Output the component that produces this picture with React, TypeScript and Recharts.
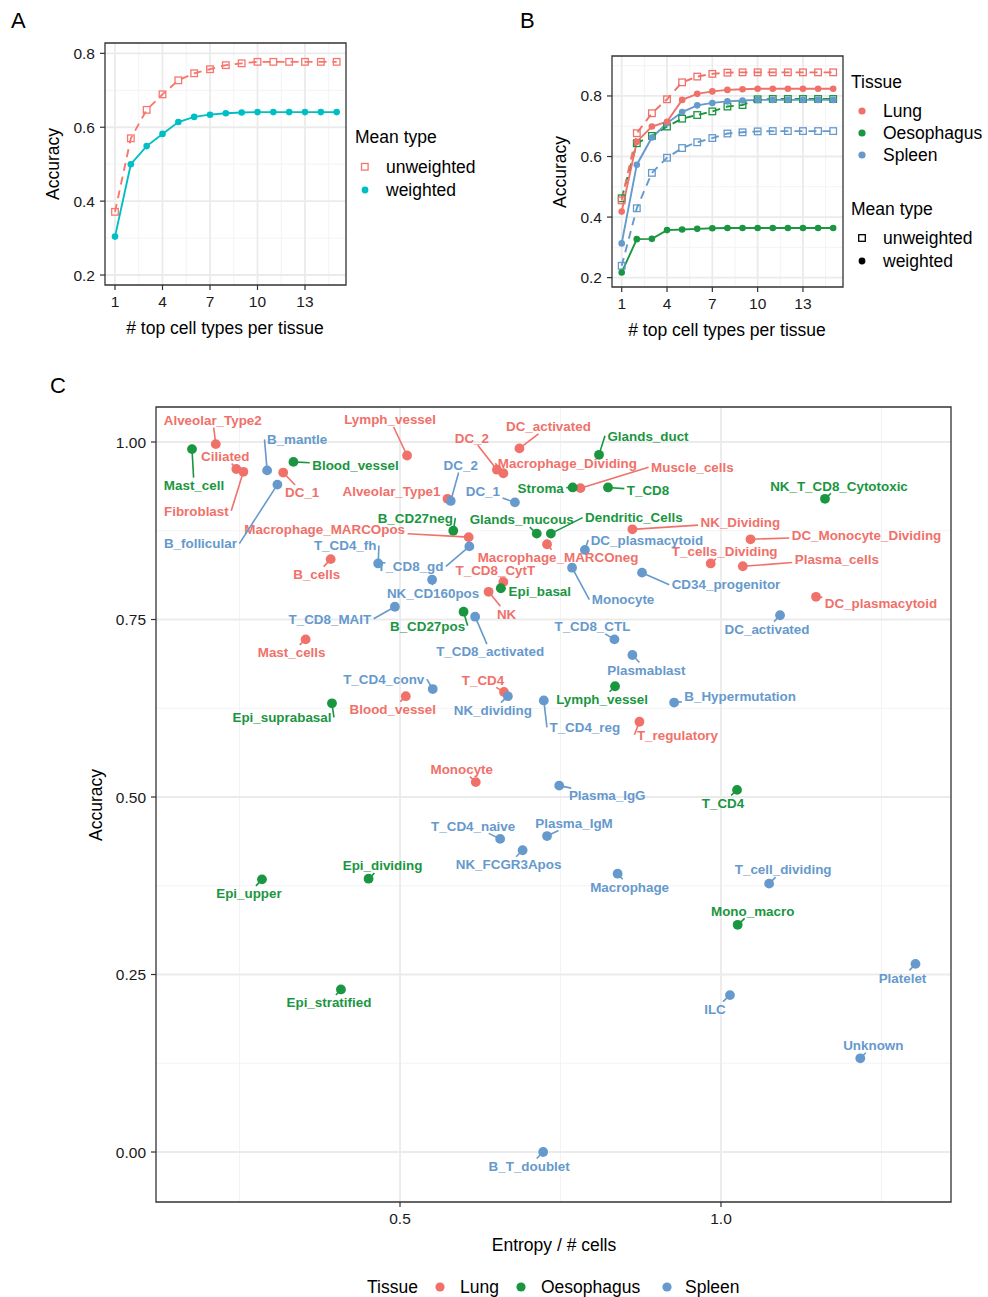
import React from 'react';
import {
  ComposedChart,
  ScatterChart,
  Line,
  Scatter,
  XAxis,
  YAxis,
  CartesianGrid,
  ReferenceArea,
} from 'recharts';

const FONT = '"Liberation Sans", Arial, Helvetica, sans-serif';

// ---------- colours ----------
const C_UNW_A = '#F8766D';
const C_W_A = '#00BFC4';
const C_LUNG = '#F0716A';
const C_OES = '#1A9641';
const C_SPL = '#6699CC';
const TICK_COL = '#1a1a1a';
const BORDER = '#333333';
const GRID_MAJOR = '#EBEBEB';
const GRID_MINOR = '#F3F3F3';

// ---------- Panel A data ----------
const topN = [1, 2, 3, 4, 5, 6, 7, 8, 9, 10, 11, 12, 13, 14, 15];
const aUnweighted = [0.371, 0.57, 0.647, 0.689, 0.727, 0.746, 0.757, 0.768, 0.773, 0.777, 0.777, 0.777, 0.777, 0.777, 0.777];
const aWeighted = [0.304, 0.5, 0.549, 0.582, 0.614, 0.628, 0.634, 0.638, 0.64, 0.641, 0.641, 0.641, 0.641, 0.641, 0.641];

// ---------- Panel B data ----------
const bLungUnw = [0.455, 0.677, 0.743, 0.789, 0.845, 0.864, 0.873, 0.877, 0.878, 0.878, 0.878, 0.878, 0.878, 0.878, 0.878];
const bLungW = [0.418, 0.649, 0.699, 0.715, 0.787, 0.807, 0.815, 0.82, 0.822, 0.824, 0.824, 0.824, 0.824, 0.824, 0.824];
const bOesUnw = [0.462, 0.644, 0.668, 0.699, 0.725, 0.737, 0.749, 0.765, 0.77, 0.789, 0.79, 0.79, 0.79, 0.79, 0.79];
const bOesW = [0.217, 0.327, 0.328, 0.357, 0.359, 0.361, 0.363, 0.364, 0.364, 0.364, 0.364, 0.364, 0.364, 0.364, 0.364];
const bSplUnw = [0.239, 0.429, 0.546, 0.596, 0.628, 0.647, 0.661, 0.676, 0.68, 0.683, 0.684, 0.684, 0.684, 0.684, 0.684];
const bSplW = [0.313, 0.573, 0.663, 0.71, 0.747, 0.769, 0.777, 0.782, 0.785, 0.787, 0.787, 0.787, 0.787, 0.787, 0.787];

// ---------- Panel C data ----------
const lungNames = ['Alveolar_Type2', 'Ciliated', 'Fibroblast', 'DC_1', 'Lymph_vessel', 'DC_activated', 'DC_2', 'Macrophage_Dividing', 'Alveolar_Type1', 'Muscle_cells', 'Macrophage_MARCOpos', 'Macrophage_MARCOneg', 'NK_Dividing', 'DC_Monocyte_Dividing', 'T_cells_Dividing', 'Plasma_cells', 'B_cells', 'T_CD8_CytT', 'NK', 'DC_plasmacytoid', 'Mast_cells', 'T_CD4', 'Blood_vessel', 'T_regulatory', 'Monocyte'];
const lungEntropy = [0.213, 0.245, 0.256, 0.318, 0.511, 0.686, 0.651, 0.661, 0.574, 0.781, 0.607, 0.729, 0.862, 1.046, 0.984, 1.034, 0.392, 0.661, 0.638, 1.148, 0.353, 0.662, 0.509, 0.873, 0.618];
const lungAccuracy = [0.997, 0.962, 0.958, 0.957, 0.981, 0.991, 0.961, 0.956, 0.92, 0.935, 0.866, 0.856, 0.877, 0.863, 0.829, 0.825, 0.835, 0.803, 0.789, 0.782, 0.722, 0.648, 0.642, 0.606, 0.521];

const oesNames = ['Mast_cell', 'Blood_vessel', 'Glands_duct', 'Stroma', 'T_CD8', 'NK_T_CD8_Cytotoxic', 'B_CD27neg', 'Glands_mucous', 'Dendritic_Cells', 'Epi_basal', 'B_CD27pos', 'Lymph_vessel', 'Epi_suprabasal', 'T_CD4', 'Epi_dividing', 'Epi_upper', 'Mono_macro', 'Epi_stratified'];
const oesEntropy = [0.176, 0.334, 0.81, 0.769, 0.824, 1.162, 0.583, 0.713, 0.735, 0.657, 0.599, 0.835, 0.394, 1.025, 0.451, 0.285, 1.026, 0.408];
const oesAccuracy = [0.99, 0.972, 0.982, 0.936, 0.936, 0.92, 0.875, 0.871, 0.871, 0.794, 0.761, 0.656, 0.632, 0.51, 0.385, 0.384, 0.32, 0.229];

const splNames = ['B_mantle', 'B_follicular', 'DC_2', 'DC_1', 'T_CD8_gd', 'T_CD4_fh', 'NK_CD160pos', 'DC_plasmacytoid', 'Monocyte', 'CD34_progenitor', 'T_CD8_MAIT', 'T_CD8_activated', 'DC_activated', 'T_CD8_CTL', 'Plasmablast', 'T_CD4_conv', 'NK_dividing', 'T_CD4_reg', 'B_Hypermutation', 'Plasma_IgG', 'T_CD4_naive', 'Plasma_IgM', 'NK_FCGR3Apos', 'Macrophage', 'T_cell_dividing', 'Platelet', 'ILC', 'Unknown', 'B_T_doublet'];
const splEntropy = [0.293, 0.309, 0.579, 0.679, 0.608, 0.466, 0.55, 0.788, 0.768, 0.877, 0.492, 0.617, 1.092, 0.834, 0.862, 0.551, 0.668, 0.724, 0.927, 0.748, 0.656, 0.729, 0.691, 0.839, 1.075, 1.303, 1.014, 1.217, 0.723];
const splAccuracy = [0.96, 0.94, 0.917, 0.915, 0.853, 0.829, 0.806, 0.848, 0.823, 0.816, 0.768, 0.754, 0.756, 0.722, 0.7, 0.652, 0.642, 0.636, 0.633, 0.516, 0.441, 0.445, 0.425, 0.392, 0.378, 0.265, 0.221, 0.132, 0.0];

// label placement (pixel nudges from each point, like ggrepel output)
const lungNudges: [number, number][] = [[-3, -24], [-11, -13], [-47, 39], [19, 20], [-17, -36], [29, -22], [-25, -32], [64, -10], [-56, -8], [112, -21], [-144, -8], [11, 13], [108, -7], [116, -4], [14, -12], [94, -7], [-14, 15], [-8, -12], [18, 22], [65, 6], [-14, 13], [-21, -12], [-13, 13], [38, 13], [-14, -13]];
const oesNudges: [number, number][] = [[2, 36], [62, 3], [49, -19], [-32, 1], [40, 3], [14, -13], [-38, -13], [-15, -14], [83, -16], [39, 3], [-36, 14], [-13, 13], [-50, 14], [-14, 13], [14, -13], [-13, 14], [15, -14], [-12, 13]];
const splNudges: [number, number][] = [[30, -31], [-77, 59], [10, -36], [-32, -11], [-59, 20], [-33, -18], [1, 13], [62, -10], [51, 32], [84, 12], [-65, 12], [15, 35], [-13, 14], [-22, -13], [14, 15], [-49, -10], [-15, 14], [41, 27], [66, -6], [48, 10], [-27, -13], [27, -13], [-14, 14], [12, 13], [14, -14], [-13, 14], [-15, 14], [13, -13], [-14, 14]];

// tick values
const abXTicks = [1, 4, 7, 10, 13];
const abXMinor = [2.5, 5.5, 8.5, 11.5, 14.5];
const abYTicks = [0.2, 0.4, 0.6, 0.8];
const aYMinor = [0.3, 0.5, 0.7];
const bYMinor = [0.3, 0.5, 0.7, 0.9];
const cXTicks = [0.5, 1.0];
const cXMinor = [0.25, 0.75, 1.25];
const cYTicks = [0, 0.25, 0.5, 0.75, 1.0];
const cYMinor = [0.125, 0.375, 0.625, 0.875];

// ---------- tables ----------
const aTable = topN.map((n, i) => ({ n, unweighted: aUnweighted[i], weighted: aWeighted[i] }));
const bTable = topN.map((n, i) => ({
  n,
  lungU: bLungUnw[i], lungW: bLungW[i],
  oesU: bOesUnw[i], oesW: bOesW[i],
  splU: bSplUnw[i], splW: bSplW[i],
}));
const mk = (names: string[], xs: number[], ys: number[], nudges: [number, number][]) =>
  names.map((name, i) => ({ name, x: xs[i], y: ys[i], ndx: nudges[i][0], ndy: nudges[i][1] }));
const lungTable = mk(lungNames, lungEntropy, lungAccuracy, lungNudges);
const oesTable = mk(oesNames, oesEntropy, oesAccuracy, oesNudges);
const splTable = mk(splNames, splEntropy, splAccuracy, splNudges);

// ---------- helpers ----------
let measureCtx: CanvasRenderingContext2D | null = null;
function textWidth(s: string, font: string): number {
  if (!measureCtx) measureCtx = document.createElement('canvas').getContext('2d');
  if (!measureCtx) return s.length * 7.3;
  measureCtx.font = font;
  return measureCtx.measureText(s).width;
}

const tickStyle = { fontSize: 15.5, fill: TICK_COL, fontFamily: FONT };
const tickLine = { stroke: BORDER, strokeWidth: 1.2 };

const squareDot = (color: string) => (p: any) => {
  if (p.cx == null || p.cy == null) return <g key={`s${p.index}`} />;
  return (
    <rect key={`s${p.index}`} x={p.cx - 3.3} y={p.cy - 3.3} width={6.6} height={6.6} fill="none" stroke={color} strokeWidth={1.3} />
  );
};
const roundDot = (color: string) => (p: any) => {
  if (p.cx == null || p.cy == null) return <g key={`c${p.index}`} />;
  return <circle key={`c${p.index}`} cx={p.cx} cy={p.cy} r={3.3} fill={color} />;
};

const pointShape = (color: string) => (p: any) => <circle cx={p.cx} cy={p.cy} r={4.9} fill={color} />;

const LABEL_SIZE = 13.4;
const LABEL_FONT = `bold ${LABEL_SIZE}px ${FONT}`;
const labelShape = (color: string) => (p: any) => {
  const { cx, cy, payload } = p;
  if (cx == null || cy == null || !payload) return <g />;
  const lx = cx + payload.ndx;
  const ly = cy + payload.ndy;
  const w = textWidth(payload.name, LABEL_FONT);
  const hw = w / 2 + 2.5;
  const hh = 7.5;
  const inside = Math.abs(cx - lx) <= hw && Math.abs(cy - ly) <= hh;
  let seg: React.ReactNode = null;
  if (!inside) {
    const dx = cx - lx;
    const dy = cy - ly;
    const t = Math.min(dx !== 0 ? hw / Math.abs(dx) : Infinity, dy !== 0 ? hh / Math.abs(dy) : Infinity);
    const cands: [number, number][] = [
      [lx + dx * t, ly + dy * t],
      [lx - hw, ly], [lx + hw, ly], [lx, ly - hh], [lx, ly + hh],
    ];
    let best = cands[0];
    let bd = Infinity;
    for (const c of cands) {
      const d = Math.hypot(c[0] - cx, c[1] - cy);
      if (d < bd) { bd = d; best = c; }
    }
    if (bd > 3) seg = <line x1={cx} y1={cy} x2={best[0]} y2={best[1]} stroke={color} strokeWidth={1.6} />;
  }
  return (
    <g>
      {seg}
      <text x={lx} y={ly} dy="0.36em" textAnchor="middle" fontSize={LABEL_SIZE} fontWeight="bold" fontFamily={FONT} fill={color}>
        {payload.name}
      </text>
    </g>
  );
};

// ---------- components ----------
function PanelA() {
  const dom: [number, number] = [0.368, 15.59];
  const ydom: [number, number] = [0.173, 0.828];
  return (
    <div style={{ position: 'absolute', left: 0, top: 0 }}>
      <ComposedChart width={350} height={345} data={aTable} margin={{ top: 43, right: 4, bottom: 10, left: 60 }}>
        <CartesianGrid verticalValues={abXMinor} horizontalValues={aYMinor} stroke={GRID_MINOR} strokeWidth={1} />
        <CartesianGrid verticalValues={abXTicks} horizontalValues={abYTicks} stroke={GRID_MAJOR} strokeWidth={1.8} />
        <XAxis dataKey="n" type="number" domain={dom} allowDataOverflow ticks={abXTicks} height={50}
          tick={tickStyle} tickLine={tickLine} axisLine={false} tickSize={5} tickMargin={6} />
        <YAxis type="number" domain={ydom} allowDataOverflow ticks={abYTicks} width={45}
          tick={tickStyle} tickLine={tickLine} axisLine={false} tickSize={5} tickMargin={5}
          tickFormatter={(v: number) => v.toFixed(1)} />
        <Line dataKey="unweighted" stroke={C_UNW_A} strokeWidth={1.9} strokeDasharray="8 6" dot={squareDot(C_UNW_A)} activeDot={false} isAnimationActive={false} />
        <Line dataKey="weighted" stroke={C_W_A} strokeWidth={1.9} dot={roundDot(C_W_A)} activeDot={false} isAnimationActive={false} />
        <ReferenceArea x1={dom[0]} x2={dom[1]} y1={ydom[0]} y2={ydom[1]} fill="none" stroke={BORDER} strokeWidth={1.3} fillOpacity={0} />
      </ComposedChart>
    </div>
  );
}

function PanelB() {
  const dom: [number, number] = [0.358, 15.65];
  const ydom: [number, number] = [0.169, 0.932];
  const series: [string, string, boolean][] = [
    ['oesU', C_OES, true], ['splU', C_SPL, true], ['lungU', C_LUNG, true],
    ['oesW', C_OES, false], ['splW', C_SPL, false], ['lungW', C_LUNG, false],
  ];
  return (
    <div style={{ position: 'absolute', left: 500, top: 0 }}>
      <ComposedChart width={350} height={345} data={bTable} margin={{ top: 56, right: 7, bottom: 8, left: 67 }}>
        <CartesianGrid verticalValues={abXMinor} horizontalValues={bYMinor} stroke={GRID_MINOR} strokeWidth={1} />
        <CartesianGrid verticalValues={abXTicks} horizontalValues={abYTicks} stroke={GRID_MAJOR} strokeWidth={1.8} />
        <XAxis dataKey="n" type="number" domain={dom} allowDataOverflow ticks={abXTicks} height={50}
          tick={tickStyle} tickLine={tickLine} axisLine={false} tickSize={5} tickMargin={6} />
        <YAxis type="number" domain={ydom} allowDataOverflow ticks={abYTicks} width={45}
          tick={tickStyle} tickLine={tickLine} axisLine={false} tickSize={5} tickMargin={5}
          tickFormatter={(v: number) => v.toFixed(1)} />
        {series.map(([k, c, dashed]) => (
          <Line key={k} dataKey={k} stroke={c} strokeWidth={1.9} strokeDasharray={dashed ? '8 6' : undefined}
            dot={dashed ? squareDot(c) : roundDot(c)} activeDot={false} isAnimationActive={false} />
        ))}
        <ReferenceArea x1={dom[0]} x2={dom[1]} y1={ydom[0]} y2={ydom[1]} fill="none" stroke={BORDER} strokeWidth={1.3} fillOpacity={0} />
      </ComposedChart>
    </div>
  );
}

function PanelC() {
  const dom: [number, number] = [0.1199, 1.3583];
  const ydom: [number, number] = [-0.0704, 1.0493];
  return (
    <div style={{ position: 'absolute', left: 0, top: 370 }}>
      <ScatterChart width={988} height={927} margin={{ top: 37, right: 37, bottom: 65, left: 106 }}>
        <CartesianGrid verticalValues={cXMinor} horizontalValues={cYMinor} stroke={GRID_MINOR} strokeWidth={1} />
        <CartesianGrid verticalValues={cXTicks} horizontalValues={cYTicks} stroke={GRID_MAJOR} strokeWidth={1.8} />
        <XAxis dataKey="x" type="number" domain={dom} allowDataOverflow ticks={cXTicks} height={30}
          tick={tickStyle} tickLine={tickLine} axisLine={false} tickSize={5} tickMargin={6}
          tickFormatter={(v: number) => v.toFixed(1)} />
        <YAxis dataKey="y" type="number" domain={ydom} allowDataOverflow ticks={cYTicks} width={50}
          tick={tickStyle} tickLine={tickLine} axisLine={false} tickSize={5} tickMargin={5}
          tickFormatter={(v: number) => v.toFixed(2)} />
        <Scatter name="Lung" data={lungTable} shape={pointShape(C_LUNG)} isAnimationActive={false} />
        <Scatter name="Oesophagus" data={oesTable} shape={pointShape(C_OES)} isAnimationActive={false} />
        <Scatter name="Spleen" data={splTable} shape={pointShape(C_SPL)} isAnimationActive={false} />
        <Scatter name="LungLabels" data={lungTable} shape={labelShape(C_LUNG)} isAnimationActive={false} />
        <Scatter name="OesLabels" data={oesTable} shape={labelShape(C_OES)} isAnimationActive={false} />
        <Scatter name="SplLabels" data={splTable} shape={labelShape(C_SPL)} isAnimationActive={false} />
        <ReferenceArea x1={dom[0]} x2={dom[1]} y1={ydom[0]} y2={ydom[1]} fill="none" stroke={BORDER} strokeWidth={1.3} fillOpacity={0} />
      </ScatterChart>
    </div>
  );
}

function Overlay() {
  const t = { fontFamily: FONT, fill: '#000' };
  const lg = 17.5;
  return (
    <svg width={988} height={1297} style={{ position: 'absolute', left: 0, top: 0, pointerEvents: 'none' }}>
      {/* panel letters */}
      <text x={11} y={28} fontSize={22} {...t}>A</text>
      <text x={520} y={28} fontSize={22} {...t}>B</text>
      <text x={50} y={393} fontSize={22} {...t}>C</text>

      {/* Panel A titles */}
      <text x={225} y={328} fontSize={lg} textAnchor="middle" dominantBaseline="central" {...t}># top cell types per tissue</text>
      <text transform="translate(53,164) rotate(-90)" fontSize={lg} textAnchor="middle" dominantBaseline="central" {...t}>Accuracy</text>
      {/* Panel A legend */}
      <text x={355} y={137} fontSize={lg} dominantBaseline="central" {...t}>Mean type</text>
      <rect x={361.5} y={163.5} width={6.6} height={6.6} fill="none" stroke={C_UNW_A} strokeWidth={1.3} />
      <text x={386} y={167} fontSize={lg} dominantBaseline="central" {...t}>unweighted</text>
      <circle cx={365} cy={190} r={3.4} fill={C_W_A} />
      <text x={386} y={190} fontSize={lg} dominantBaseline="central" {...t}>weighted</text>

      {/* Panel B titles */}
      <text x={727} y={330} fontSize={lg} textAnchor="middle" dominantBaseline="central" {...t}># top cell types per tissue</text>
      <text transform="translate(560,172) rotate(-90)" fontSize={lg} textAnchor="middle" dominantBaseline="central" {...t}>Accuracy</text>
      {/* Panel B legend */}
      <text x={851} y={82} fontSize={lg} dominantBaseline="central" {...t}>Tissue</text>
      <circle cx={862} cy={111} r={3.6} fill={C_LUNG} />
      <text x={883} y={111} fontSize={lg} dominantBaseline="central" {...t}>Lung</text>
      <circle cx={862} cy={133} r={3.6} fill={C_OES} />
      <text x={883} y={133} fontSize={lg} dominantBaseline="central" {...t}>Oesophagus</text>
      <circle cx={862} cy={155} r={3.6} fill={C_SPL} />
      <text x={883} y={155} fontSize={lg} dominantBaseline="central" {...t}>Spleen</text>
      <text x={851} y={209} fontSize={lg} dominantBaseline="central" {...t}>Mean type</text>
      <rect x={858.7} y={234.7} width={6.6} height={6.6} fill="none" stroke="#000" strokeWidth={1.3} />
      <text x={883} y={238} fontSize={lg} dominantBaseline="central" {...t}>unweighted</text>
      <circle cx={862} cy={261} r={3.4} fill="#000" />
      <text x={883} y={261} fontSize={lg} dominantBaseline="central" {...t}>weighted</text>

      {/* Panel C titles */}
      <text x={554} y={1245} fontSize={lg} textAnchor="middle" dominantBaseline="central" {...t}>Entropy / # cells</text>
      <text transform="translate(96,805) rotate(-90)" fontSize={lg} textAnchor="middle" dominantBaseline="central" {...t}>Accuracy</text>
      {/* Panel C legend */}
      <text x={367} y={1287} fontSize={lg} dominantBaseline="central" {...t}>Tissue</text>
      <circle cx={440} cy={1287} r={4.6} fill={C_LUNG} />
      <text x={460} y={1287} fontSize={lg} dominantBaseline="central" {...t}>Lung</text>
      <circle cx={521} cy={1287} r={4.6} fill={C_OES} />
      <text x={541} y={1287} fontSize={lg} dominantBaseline="central" {...t}>Oesophagus</text>
      <circle cx={667} cy={1287} r={4.6} fill={C_SPL} />
      <text x={685} y={1287} fontSize={lg} dominantBaseline="central" {...t}>Spleen</text>
    </svg>
  );
}

export default function App() {
  return (
    <div style={{ position: 'absolute', left: 0, top: 0, width: 988, height: 1297, background: '#fff', fontFamily: FONT }}>
      <PanelA />
      <PanelB />
      <PanelC />
      <Overlay />
    </div>
  );
}
